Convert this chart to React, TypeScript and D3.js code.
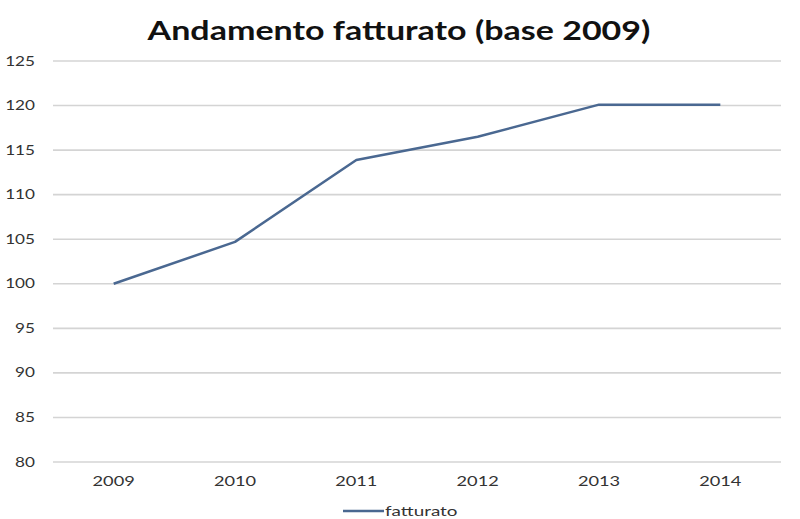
import React from "react";
import * as d3 from "d3";

const years = ["2009", "2010", "2011", "2012", "2013", "2014"];
const fatturato = [100, 104.7, 113.9, 116.5, 120.1, 120.1];
const yTicks = [80, 85, 90, 95, 100, 105, 110, 115, 120, 125];
const title = "Andamento fatturato (base 2009)";
const seriesName = "fatturato";

export default function App() {
  const W = 800, H = 519;
  const left = 53, right = 781, top = 61, bottom = 462;
  const x = d3.scaleBand<string>().domain(years).range([left, right]);
  const y = d3.scaleLinear().domain([80, 125]).range([bottom, top]);
  const line = d3
    .line<number>()
    .x((_, i) => (x(years[i]) as number) + x.bandwidth() / 2)
    .y((d) => y(d));
  const font = "Lato, 'Open Sans', sans-serif";
  return (
    <svg width={W} height={H} style={{ position: "absolute", left: 0, top: 0, background: "#fff" }}>
      <rect width={W} height={H} fill="#fff" />
      <text transform="translate(399,40) scale(1.26,1)" textAnchor="middle" fontFamily={font} fontWeight="bold" fontSize={27} fill="#111">
        {title}
      </text>
      {yTicks.map((t) => (
        <g key={t}>
          <line x1={left} x2={right} y1={y(t)} y2={y(t)} stroke="#d4d4d4" strokeWidth={1.6} />
          <text transform={`translate(35,${y(t)}) scale(1.32,1)`} dy="0.35em" textAnchor="end" fontFamily={font} fontSize={13} fill="#333">
            {t}
          </text>
        </g>
      ))}
      {years.map((yr) => (
        <text key={yr} transform={`translate(${(x(yr) as number) + x.bandwidth() / 2},486) scale(1.4,1)`} textAnchor="middle" fontFamily={font} fontSize={13} fill="#333">
          {yr}
        </text>
      ))}
      <path d={line(fatturato) || ""} fill="none" stroke="#4a6891" strokeWidth={2.5} strokeLinejoin="round" />
      <line x1={343} x2={384} y1={511} y2={511} stroke="#4a6891" strokeWidth={2.5} />
      <text transform="translate(385,511) scale(1.45,1)" dy="0.35em" fontFamily={font} fontSize={13} fill="#333">
        {seriesName}
      </text>
    </svg>
  );
}
